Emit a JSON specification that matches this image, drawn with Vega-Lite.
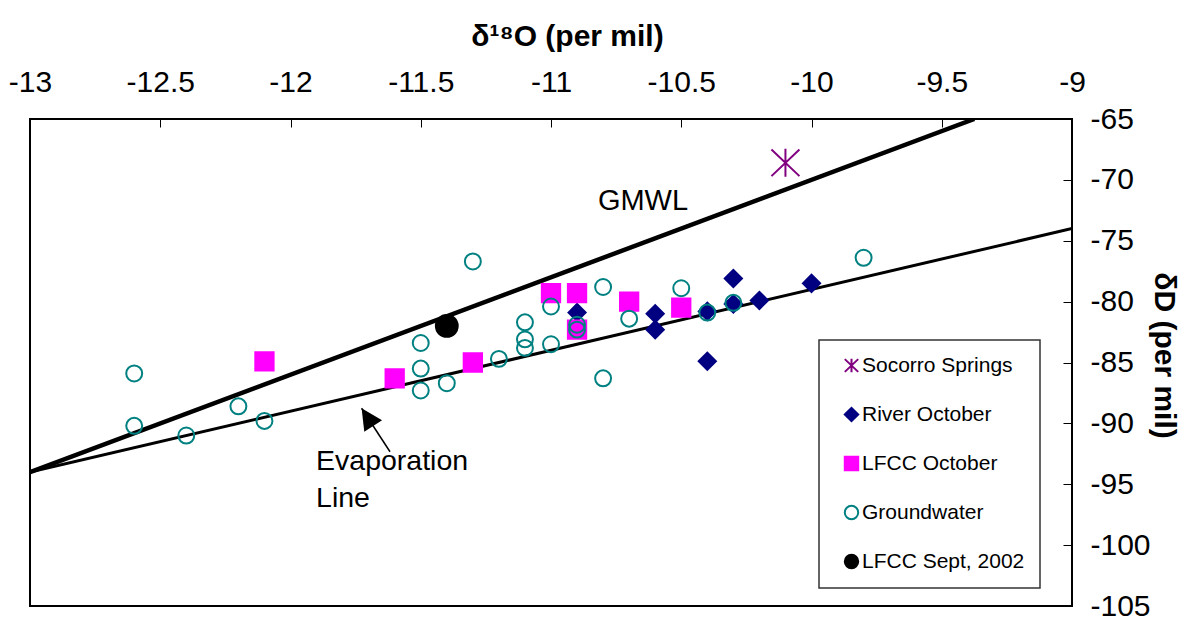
{
  "$schema": "https://vega.github.io/schema/vega-lite/v6.json",
  "width": 1042,
  "height": 487,
  "autosize": {"type": "none"},
  "padding": {"left": 30, "top": 119, "right": 117, "bottom": 19},
  "background": "white",
  "datasets": {
    "samples": [
      {"series": "Socorro Springs", "d18O": -10.1, "dD": -68.6},
      {"series": "River October", "d18O": -10.9, "dD": -80.9},
      {"series": "River October", "d18O": -10.6, "dD": -81.0},
      {"series": "River October", "d18O": -10.6, "dD": -82.3},
      {"series": "River October", "d18O": -10.4, "dD": -80.8},
      {"series": "River October", "d18O": -10.4, "dD": -84.9},
      {"series": "River October", "d18O": -10.3, "dD": -78.1},
      {"series": "River October", "d18O": -10.3, "dD": -80.2},
      {"series": "River October", "d18O": -10.2, "dD": -79.9},
      {"series": "River October", "d18O": -10.0, "dD": -78.5},
      {"series": "LFCC October", "d18O": -12.1, "dD": -84.9},
      {"series": "LFCC October", "d18O": -11.6, "dD": -86.3},
      {"series": "LFCC October", "d18O": -11.3, "dD": -85.0},
      {"series": "LFCC October", "d18O": -11.0, "dD": -79.3},
      {"series": "LFCC October", "d18O": -10.9, "dD": -79.3},
      {"series": "LFCC October", "d18O": -10.9, "dD": -82.3},
      {"series": "LFCC October", "d18O": -10.7, "dD": -80.0},
      {"series": "LFCC October", "d18O": -10.5, "dD": -80.5},
      {"series": "Groundwater", "d18O": -12.6, "dD": -85.9},
      {"series": "Groundwater", "d18O": -12.6, "dD": -90.2},
      {"series": "Groundwater", "d18O": -12.4, "dD": -91.0},
      {"series": "Groundwater", "d18O": -12.2, "dD": -88.6},
      {"series": "Groundwater", "d18O": -12.1, "dD": -89.8},
      {"series": "Groundwater", "d18O": -11.5, "dD": -83.4},
      {"series": "Groundwater", "d18O": -11.5, "dD": -85.5},
      {"series": "Groundwater", "d18O": -11.5, "dD": -87.3},
      {"series": "Groundwater", "d18O": -11.4, "dD": -86.7},
      {"series": "Groundwater", "d18O": -11.3, "dD": -76.7},
      {"series": "Groundwater", "d18O": -11.2, "dD": -84.7},
      {"series": "Groundwater", "d18O": -11.1, "dD": -81.7},
      {"series": "Groundwater", "d18O": -11.1, "dD": -83.1},
      {"series": "Groundwater", "d18O": -11.1, "dD": -83.8},
      {"series": "Groundwater", "d18O": -11.0, "dD": -80.4},
      {"series": "Groundwater", "d18O": -11.0, "dD": -83.5},
      {"series": "Groundwater", "d18O": -10.9, "dD": -81.9},
      {"series": "Groundwater", "d18O": -10.9, "dD": -82.3},
      {"series": "Groundwater", "d18O": -10.8, "dD": -78.8},
      {"series": "Groundwater", "d18O": -10.8, "dD": -86.3},
      {"series": "Groundwater", "d18O": -10.7, "dD": -81.4},
      {"series": "Groundwater", "d18O": -10.5, "dD": -78.9},
      {"series": "Groundwater", "d18O": -10.4, "dD": -80.9},
      {"series": "Groundwater", "d18O": -10.3, "dD": -80.1},
      {"series": "Groundwater", "d18O": -9.8, "dD": -76.4},
      {"series": "LFCC Sept, 2002", "d18O": -11.4, "dD": -82.0}
    ],
    "lines": [
      {"line": "GMWL", "d18O": -13, "dD": -94},
      {"line": "GMWL", "d18O": -9.375, "dD": -65},
      {"line": "Evaporation", "d18O": -13, "dD": -94},
      {"line": "Evaporation", "d18O": -9, "dD": -74}
    ],
    "gmwlLabel": [
      {"text": "GMWL", "d18O": -10.82, "dD": -72.47}
    ],
    "evapLabel": [
      {"text": "Evaporation", "d18O": -11.902, "dD": -93.83},
      {"text": "Line", "d18O": -11.902, "dD": -96.84}
    ],
    "arrow": [
      {"d18O": -11.618, "dD": -92.33, "d18O_tip": -11.727, "dD_tip": -88.76}
    ]
  },
  "encoding": {
    "x": {
      "field": "d18O",
      "type": "quantitative",
      "scale": {"domain": [-13, -9], "nice": false, "zero": false},
      "axis": {
        "orient": "top",
        "values": [-13, -12.5, -12, -11.5, -11, -10.5, -10, -9.5, -9],
        "labelExpr": "'' + datum.value",
        "tickSize": -8,
        "labelPadding": 30,
        "labelFontSize": 30,
        "title": "δ¹⁸O (per mil)",
        "titleFontSize": 30,
        "titleFontWeight": "bold",
        "titleX": 537,
        "titleY": -74,
        "titleBaseline": "alphabetic",
        "titleAlign": "center"
      }
    },
    "y": {
      "field": "dD",
      "type": "quantitative",
      "scale": {"domain": [-105, -65], "nice": false, "zero": false},
      "axis": {
        "orient": "right",
        "values": [-105, -100, -95, -90, -85, -80, -75, -70, -65],
        "labelExpr": "'' + datum.value",
        "tickSize": -9,
        "labelPadding": 27,
        "labelFontSize": 30,
        "labelAlign": "left",
        "labelBaseline": "middle",
        "title": "δD (per mil)",
        "titleFontSize": 30,
        "titleFontWeight": "bold",
        "titleAngle": 90,
        "titleX": 82,
        "titleY": 236,
        "titleBaseline": "alphabetic",
        "titleAlign": "center"
      }
    }
  },
  "layer": [
    {
      "data": {"name": "lines"},
      "transform": [{"filter": "datum.line === 'GMWL'"}],
      "mark": {"type": "line", "color": "#000", "strokeWidth": 4.5, "clip": true},
      "encoding": {"detail": {"field": "line"}}
    },
    {
      "data": {"name": "lines"},
      "transform": [{"filter": "datum.line === 'Evaporation'"}],
      "mark": {"type": "line", "color": "#000", "strokeWidth": 3, "clip": true},
      "encoding": {"detail": {"field": "line"}}
    },
    {
      "data": {"name": "arrow"},
      "mark": {"type": "rule", "color": "#000", "strokeWidth": 1.5},
      "encoding": {
        "x2": {"field": "d18O_tip"},
        "y2": {"field": "dD_tip"}
      }
    },
    {
      "data": {"name": "arrow"},
      "mark": {
        "type": "point",
        "shape": "M0,0L-0.5,1L0.5,1Z",
        "size": 1800,
        "angle": 327,
        "filled": true,
        "color": "#000",
        "opacity": 1
      },
      "encoding": {
        "x": {"field": "d18O_tip", "type": "quantitative"},
        "y": {"field": "dD_tip", "type": "quantitative"}
      }
    },
    {
      "data": {"name": "gmwlLabel"},
      "mark": {"type": "text", "fontSize": 29, "align": "left", "baseline": "alphabetic", "color": "#000"},
      "encoding": {"text": {"field": "text"}}
    },
    {
      "data": {"name": "evapLabel"},
      "mark": {"type": "text", "fontSize": 28.5, "align": "left", "baseline": "alphabetic", "color": "#000"},
      "encoding": {"text": {"field": "text"}}
    },
    {
      "data": {"name": "samples"},
      "encoding": {
        "shape": {
          "field": "series",
          "type": "nominal",
          "scale": {
            "domain": ["Socorro Springs", "River October", "LFCC October", "Groundwater", "LFCC Sept, 2002"],
            "range": ["M0,-1L0,1M-1,-0.95L1,0.95M-1,0.95L1,-0.95", "diamond", "square", "circle", "circle"]
          },
          "legend": {"title": null, "orient": "none", "legendX": 789, "legendY": 221}
        },
        "stroke": {
          "field": "series",
          "type": "nominal",
          "scale": {
            "domain": ["Socorro Springs", "River October", "LFCC October", "Groundwater", "LFCC Sept, 2002"],
            "range": ["#800080", "#000080", "#FF00FF", "#008080", "#000000"]
          },
          "legend": {"title": null, "orient": "none", "legendX": 789, "legendY": 221}
        },
        "fill": {
          "field": "series",
          "type": "nominal",
          "scale": {
            "domain": ["Socorro Springs", "River October", "LFCC October", "Groundwater", "LFCC Sept, 2002"],
            "range": ["#800080", "#000080", "#FF00FF", "transparent", "#000000"]
          },
          "legend": {"title": null, "orient": "none", "legendX": 789, "legendY": 221}
        }
      },
      "layer": [
        {
          "transform": [{"filter": "datum.series === 'Socorro Springs'"}],
          "mark": {"type": "point", "opacity": 1, "strokeWidth": 2, "size": 784}
        },
        {
          "transform": [{"filter": "datum.series === 'River October'"}],
          "mark": {"type": "point", "opacity": 1, "strokeWidth": 2, "size": 296}
        },
        {
          "transform": [{"filter": "datum.series === 'LFCC October'"}],
          "mark": {"type": "point", "opacity": 1, "strokeWidth": 2, "size": 335}
        },
        {
          "transform": [{"filter": "datum.series === 'Groundwater'"}],
          "mark": {"type": "point", "opacity": 1, "strokeWidth": 2, "size": 254}
        },
        {
          "transform": [{"filter": "datum.series === 'LFCC Sept, 2002'"}],
          "mark": {"type": "point", "opacity": 1, "strokeWidth": 2, "size": 475}
        }
      ]
    }
  ],
  "config": {
    "font": "Liberation Sans",
    "view": {"stroke": "#000", "strokeWidth": 2},
    "axis": {
      "grid": false,
      "domain": false,
      "tickColor": "#000",
      "tickWidth": 1,
      "labelColor": "#000",
      "titleColor": "#000",
      "labelFont": "Liberation Sans",
      "titleFont": "Liberation Sans",
      "labelFlush": false,
      "labelOverlap": false
    },
    "legend": {
      "padding": 15,
      "strokeColor": "#333",
      "strokeWidth": 1.5,
      "fillColor": "#fff",
      "labelFont": "Liberation Sans",
      "labelFontSize": 21,
      "labelColor": "#000",
      "labelLimit": 400,
      "symbolSize": 180,
      "symbolStrokeWidth": 2,
      "symbolOpacity": 1,
      "rowPadding": 26,
      "symbolOffset": 7,
      "labelOffset": 0
    }
  }
}
